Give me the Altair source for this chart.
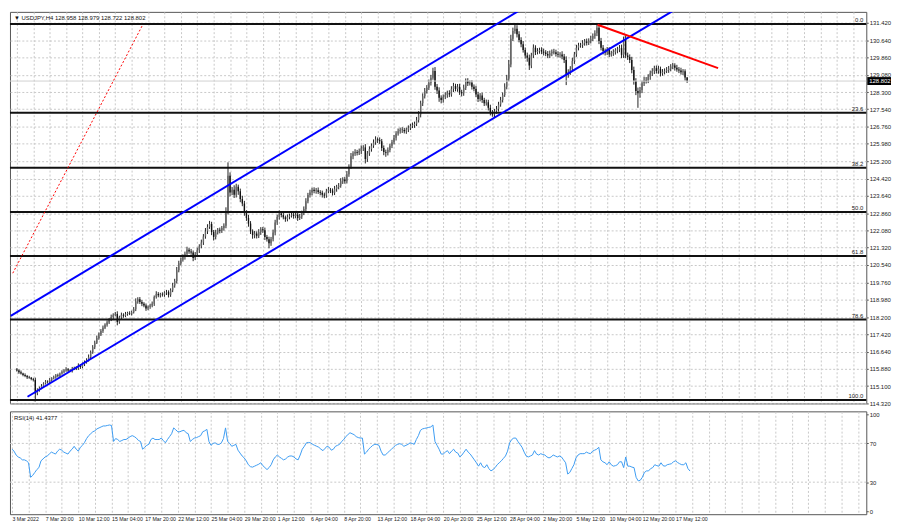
import json
import altair as alt
import pandas as pd

# ---------------- data ----------------
first_open = 115.85
closes = [
    115.80, 115.72, 115.66, 115.60, 115.55, 115.50, 115.47, 115.42, 115.38, 114.78,
    114.92, 115.02, 115.10, 115.22, 115.30, 115.28, 115.38, 115.45, 115.50, 115.58,
    115.55, 115.66, 115.74, 115.80, 115.86, 115.80, 115.78, 115.88, 115.92, 115.90,
    116.02, 115.96, 116.08, 116.18, 116.26, 116.40, 116.62, 116.84, 117.05, 117.26,
    117.42, 117.58, 117.72, 117.85, 117.96, 118.08, 118.20, 118.30, 118.34, 117.98,
    118.18, 118.30, 118.26, 118.34, 118.38, 118.36, 118.42, 118.55, 118.90, 119.00,
    118.88, 118.80, 118.72, 118.58, 118.66, 118.72, 118.80, 119.10, 119.24, 119.18,
    119.22, 119.20, 119.30, 119.32, 119.20, 119.40, 119.62, 119.82, 120.30, 120.62,
    120.78, 120.90, 121.05, 121.22, 121.15, 121.10, 120.85, 121.02, 121.20, 121.38,
    121.55, 121.82, 122.05, 122.25, 122.38, 122.02, 121.80, 122.00, 122.12, 122.08,
    122.20, 122.30, 122.95, 124.55, 123.80, 123.92, 123.70, 124.05, 123.85, 123.50,
    123.30, 122.90, 122.65, 122.40, 122.05, 121.88, 121.95, 121.85, 122.02, 122.15,
    122.10, 121.80, 121.70, 121.52, 121.70, 122.00, 122.45, 122.70, 122.85, 122.78,
    122.68, 122.60, 122.70, 122.76, 122.80, 122.74, 122.80, 122.65, 122.72, 122.88,
    123.05, 123.40, 123.68, 123.80, 123.92, 123.86, 123.90, 123.82, 123.78, 123.70,
    123.66, 123.85, 123.92, 123.88, 123.78, 123.96, 124.05, 124.10, 124.30, 124.38,
    124.30, 124.62, 124.95, 125.42, 125.55, 125.62, 125.58, 125.66, 125.78, 125.82,
    125.30, 125.55, 125.75, 125.90, 126.05, 126.18, 126.15, 126.10, 125.80, 125.62,
    125.58, 125.70, 125.90, 126.05, 126.25, 126.45, 126.55, 126.62, 126.60, 126.55,
    126.62, 126.70, 126.78, 126.82, 126.88, 127.05, 127.30, 127.80, 128.12, 128.35,
    128.50, 128.72, 128.95, 129.25, 128.55, 128.38, 128.05, 127.95, 128.10, 128.18,
    128.26, 128.20, 128.45, 128.58, 128.45, 128.55, 128.30, 128.25, 128.50, 128.80,
    128.70, 128.72, 128.55, 128.45, 128.20, 128.00, 128.15, 127.95, 127.80, 127.85,
    127.60, 127.38, 127.30, 127.45, 127.55, 127.75, 127.95, 128.18, 128.55, 128.90,
    129.55, 130.70, 131.05, 131.15, 130.90, 130.65, 130.45, 130.20, 129.95, 129.85,
    129.50, 129.95, 130.30, 130.10, 130.15, 130.20, 130.12, 130.08, 130.02, 129.95,
    130.05, 130.12, 130.10, 130.02, 129.98, 130.00, 129.90, 129.75, 129.10, 129.20,
    129.35, 129.70, 130.00, 130.30, 130.40, 130.42, 130.50, 130.58, 130.52, 130.60,
    130.70, 130.82, 130.95, 131.20, 130.60, 130.30, 130.15, 130.08, 130.20, 130.00,
    130.05, 130.10, 130.18, 130.22, 130.28, 129.98, 130.65, 129.95, 129.88, 129.75,
    129.30, 128.80, 128.35, 128.25, 128.40, 128.70, 128.85, 128.82, 129.00, 129.15,
    129.25, 129.38, 129.25, 129.35, 129.15, 129.22, 129.26, 129.30, 129.36, 129.45,
    129.50, 129.40, 129.32, 129.28, 129.20, 129.24, 128.96, 128.80,
]
# upper / lower wick lengths in hundredths of a yen
up_wick = [
    6, 5, 8, 4, 7, 5, 6, 4, 5, 10, 8, 6, 9, 5, 7, 6, 8, 5, 7, 6,
    8, 5, 7, 6, 9, 5, 6, 8, 5, 7, 10, 6, 8, 7, 9, 12, 8, 10, 9, 11,
    9, 8, 10, 7, 9, 8, 11, 7, 9, 12, 8, 10, 7, 9, 6, 8, 7, 10, 14, 9,
    10, 8, 7, 9, 6, 8, 10, 7, 12, 8, 7, 9, 6, 10, 8, 9, 12, 10, 15, 11,
    10, 12, 9, 14, 8, 11, 9, 10, 12, 9, 13, 11, 15, 12, 14, 10, 9, 12, 8, 10,
    9, 11, 18, 60, 15, 12, 20, 14, 10, 12, 15, 12, 10, 14, 11, 9, 12, 10, 13, 9,
    10, 12, 9, 11, 10, 13, 12, 10, 14, 9, 10, 8, 11, 9, 12, 8, 10, 9, 11, 10,
    12, 14, 10, 12, 9, 11, 10, 12, 8, 10, 9, 11, 12, 8, 10, 13, 9, 12, 14, 10,
    12, 14, 11, 15, 10, 12, 9, 11, 13, 10, 15, 11, 12, 10, 13, 14, 9, 12, 10, 11,
    10, 12, 9, 11, 13, 10, 12, 9, 11, 10, 9, 11, 10, 12, 10, 14, 15, 12, 13, 14,
    12, 15, 13, 15, 18, 12, 14, 11, 10, 12, 11, 13, 12, 14, 10, 12, 13, 11, 14, 12,
    13, 11, 12, 10, 14, 12, 11, 13, 10, 12, 11, 14, 12, 10, 13, 12, 14, 11, 15, 18,
    20, 18, 15, 23, 16, 14, 12, 15, 11, 13, 14, 12, 15, 11, 13, 10, 12, 14, 11, 13,
    12, 10, 13, 11, 12, 10, 14, 12, 16, 13, 12, 15, 11, 13, 12, 10, 14, 11, 13, 12,
    14, 12, 13, 15, 18, 14, 12, 11, 13, 12, 11, 13, 10, 12, 14, 16, 15, 20, 13, 12,
    14, 15, 13, 16, 14, 12, 15, 13, 11, 12, 13, 11, 12, 14, 10, 12, 11, 13, 12, 11,
    12, 10, 13, 11, 12, 10, 9, 2,
]
dn_wick = [
    5, 7, 4, 6, 5, 8, 4, 6, 7, 37, 9, 7, 6, 8, 5, 7, 6, 8, 5, 7,
    6, 8, 5, 7, 6, 9, 5, 7, 6, 8, 7, 9, 6, 8, 7, 6, 9, 7, 8, 6,
    8, 7, 9, 6, 8, 7, 6, 9, 7, 15, 8, 7, 9, 6, 8, 7, 9, 6, 8, 10,
    9, 11, 8, 10, 7, 9, 8, 10, 7, 9, 10, 8, 9, 11, 12, 9, 8, 10, 11, 9,
    10, 9, 12, 8, 11, 10, 14, 9, 10, 12, 9, 11, 10, 12, 9, 14, 16, 11, 9, 12,
    10, 12, 11, 14, 18, 12, 15, 13, 16, 14, 12, 15, 13, 14, 12, 16, 14, 12, 10, 13,
    12, 14, 11, 23, 12, 10, 13, 11, 12, 10, 9, 12, 10, 11, 9, 12, 10, 13, 9, 11,
    10, 12, 9, 11, 13, 10, 12, 9, 11, 13, 12, 10, 9, 11, 12, 10, 13, 11, 9, 12,
    11, 10, 12, 9, 13, 11, 12, 10, 14, 12, 20, 13, 11, 12, 10, 11, 13, 12, 14, 15,
    18, 12, 10, 11, 9, 12, 10, 11, 13, 10, 12, 11, 10, 9, 12, 10, 11, 13, 12, 10,
    11, 10, 12, 9, 14, 16, 18, 15, 12, 11, 13, 12, 10, 14, 11, 13, 12, 14, 11, 10,
    12, 10, 13, 11, 12, 14, 11, 13, 12, 10, 12, 12, 10, 13, 11, 12, 10, 11, 9, 12,
    11, 13, 10, 12, 14, 11, 13, 12, 14, 18, 20, 12, 11, 13, 10, 12, 11, 13, 10, 12,
    11, 13, 10, 12, 11, 13, 12, 14, 48, 15, 12, 10, 13, 11, 12, 10, 13, 11, 12, 10,
    11, 10, 12, 13, 14, 12, 15, 13, 11, 12, 10, 12, 11, 13, 12, 15, 14, 12, 13, 14,
    15, 16, 18, 65, 20, 14, 12, 13, 11, 14, 12, 13, 11, 12, 14, 11, 12, 10, 13, 12,
    11, 13, 10, 12, 11, 13, 14, 8,
]
rsi_values = [
    64, 62, 58, 56, 55, 53, 53, 52, 50, 35,
    37, 40, 43, 45, 52, 54, 56, 57, 59, 61,
    60, 59, 62, 64, 63, 61, 60, 59, 62, 64,
    67, 64, 62, 66, 68, 71, 75, 78, 80, 82,
    83, 85, 86, 87, 88, 88, 88.5, 89, 88.5, 72,
    75, 74, 72, 73, 74, 74, 75.5, 77, 78, 77,
    75.5, 73, 72, 64, 66, 68, 69, 74, 75.5, 74,
    74, 74, 75.5, 73, 70.6, 74, 77, 80, 86, 84,
    82, 82, 83, 83.5, 81, 80, 72, 74, 75.5, 76,
    77, 78, 82, 83, 84.5, 72, 68, 70, 70.6, 69,
    69, 70.6, 75, 86, 72, 70, 67, 68, 69, 63,
    60, 57, 55, 52, 48, 46, 45.5, 46.5, 47.5, 48.5,
    50, 47, 45, 43, 45, 48, 53, 56, 58, 56,
    54.5, 53, 54, 56, 57, 57, 56, 54, 53, 58,
    64, 67, 70.6, 71, 70.6, 69, 68, 67, 66, 64,
    62.5, 65, 67, 66, 63, 64, 67, 68, 69, 72,
    74, 77, 79, 81, 80, 79, 77, 76, 75.5, 75.5,
    59, 61, 64, 66, 68, 69, 69, 68, 62, 58,
    58, 60, 62, 64, 66, 68, 69, 69.7, 69, 67,
    68, 69, 70.6, 70, 69, 74, 78, 83.5, 85, 85.5,
    86, 86.5, 87, 89, 72, 68, 64, 59, 59, 61,
    62.5, 59.4, 62, 64, 61, 60, 56, 58, 61, 64,
    61, 59, 56, 53, 50, 46.5, 50, 46, 45, 48,
    44, 41.6, 43, 45, 48, 50, 52, 54.5, 57, 62,
    70.6, 74, 75.5, 75.5, 72, 69, 66, 61, 57, 56,
    57, 58, 62.5, 59, 58, 59.4, 58.5, 58, 56, 55,
    56, 58, 57, 56, 57, 56, 53, 50, 38.4, 40,
    44, 48, 55, 58, 59.4, 59.4, 59.4, 61, 60, 59.4,
    62, 63, 64, 66, 53, 51, 50, 48, 51, 48,
    46.5, 47, 48, 51, 51, 45, 56, 46.5, 46.5, 45.5,
    45, 35, 31.3, 32, 35, 40, 41.6, 41.6, 44, 45,
    48, 47, 46.5, 50, 47, 46.5, 48, 48.5, 49, 51,
    52, 50.3, 49, 48, 48, 50, 44, 41.4377,
]

time_labels = ["3 Mar 2022", "7 Mar 20:00", "10 Mar 12:00", "15 Mar 04:00", "17 Mar 20:00",
               "22 Mar 12:00", "25 Mar 04:00", "29 Mar 20:00", "1 Apr 12:00", "6 Apr 04:00",
               "8 Apr 20:00", "13 Apr 12:00", "18 Apr 04:00", "20 Apr 20:00", "25 Apr 12:00",
               "28 Apr 04:00", "2 May 20:00", "5 May 12:00", "10 May 04:00", "12 May 20:00",
               "17 May 12:00"]
grid_bars = list(range(0, 412, 8))
price_ticks = [131.42, 130.64, 129.86, 129.08, 128.30, 127.54, 126.76, 125.98, 125.20,
               124.42, 123.64, 122.86, 122.08, 121.32, 120.54, 119.76, 118.98, 118.20,
               117.42, 116.64, 115.88, 115.10, 114.32]
fib_names = ["0.0", "23.6", "38.2", "50.0", "61.8", "78.6", "100.0"]
fib_prices = [131.36, 127.38, 124.91, 122.92, 120.94, 118.09, 114.48]
rsi_levels = [30, 70]
rsi_ticks = [0, 30, 70, 100]

line_ids = ["up", "up", "low", "low"]
line_bars = [-3.0, 248.9, 5.18, 324.2]
line_prices = [118.25, 132.18, 114.62, 132.18]
red_bars = [283.3, 342.1]
red_prices = [131.33, 129.38]
diag_bars = [-2.0, 61.5]
diag_prices = [120.17, 131.35]
last_price = 128.802
title_text = "▼ USDJPY,H4  128.958 128.979 128.722 128.802"
rsi_text = "RSI(14) 41.4377"

# ---------------- tables ----------------
n = len(closes)
opens = [first_open] + closes[:-1]
bars = list(range(n))
highs = [max(o, c) + u / 100 for o, c, u in zip(opens, closes, up_wick)]
lows = [min(o, c) - d / 100 for o, c, d in zip(opens, closes, dn_wick)]
candles = pd.DataFrame({"bar": bars, "open": opens, "close": closes,
                        "high": highs, "low": lows})
rsi_df = pd.DataFrame({"bar": bars, "rsi": rsi_values[:n]})
fib_df = pd.DataFrame({"name": fib_names, "price": fib_prices})
chan_df = pd.DataFrame({"id": line_ids, "bar": line_bars, "price": line_prices})
red_df = pd.DataFrame({"bar": red_bars, "price": red_prices})
diag_df = pd.DataFrame({"bar": diag_bars, "price": diag_prices})
last_df = pd.DataFrame({"price": [last_price], "label": [f"{last_price:.3f}"]})
lvl_df = pd.DataFrame({"level": rsi_levels})

W = 866
H_MAIN = 396
H_RSI = 104
FONT = "Liberation Sans"
GRID = "#c8c8c8"

xscale = alt.Scale(domain=[-0.954, 412.0], nice=False, zero=False)
yscale = alt.Scale(domain=[114.32, 131.909], nice=False, zero=False)
rscale = alt.Scale(domain=[-3.06, 103.06], nice=False, zero=False)

XA = alt.Axis(values=grid_bars, labels=False, ticks=False, domain=False,
              grid=True, gridColor=GRID, gridDash=[2, 2], title=None)
YA = alt.Axis(orient="right", values=price_ticks, format=".3f", grid=True,
              gridColor=GRID, gridDash=[2, 2], labelFontSize=6,
              labelColor="#222", tickSize=2, tickColor="#555", labelPadding=1,
              domain=False, title=None, labelFont=FONT)


def X(field):
    return alt.X(field, scale=xscale, axis=XA)


def Y(field):
    return alt.Y(field, scale=yscale, axis=YA)


base = alt.Chart(candles)
wicks = base.mark_rule(color="#222", strokeWidth=1).encode(
    x=X("bar:Q"), y=Y("low:Q"), y2="high:Q")
bodies = base.mark_bar(width=1.4).encode(
    x=X("bar:Q"), y=Y("open:Q"), y2="close:Q",
    color=alt.condition("datum.close >= datum.open", alt.value("#666666"), alt.value("#111111")),
)
fib_lines = alt.Chart(fib_df).mark_rule(color="#111", strokeWidth=2).encode(y=Y("price:Q"))
fib_text = alt.Chart(fib_df).mark_text(align="right", baseline="bottom", fontSize=6,
                                       dy=-1, font=FONT, color="#222").encode(
    x=alt.value(W - 3), y=Y("price:Q"), text="name:N")
bid_line = alt.Chart(last_df).mark_rule(color="#d0d0d0", strokeWidth=1).encode(y=Y("price:Q"))
channel = alt.Chart(chan_df).mark_line(color="#0000ff", strokeWidth=2, clip=True).encode(
    x=X("bar:Q"), y=Y("price:Q"), detail="id:N")
red = alt.Chart(red_df).mark_line(color="#ff0000", strokeWidth=2, clip=True).encode(
    x=X("bar:Q"), y=Y("price:Q"))
diag = alt.Chart(diag_df).mark_line(color="#ff0000", strokeWidth=1, strokeDash=[2, 2],
                                    clip=True).encode(x=X("bar:Q"), y=Y("price:Q"))
price_box = alt.Chart(last_df).mark_rect(color="#000", yOffset=-4, y2Offset=4).encode(
    x=alt.value(W + 1), x2=alt.value(W + 25), y=Y("price:Q"), y2="price:Q")
price_txt = alt.Chart(last_df).mark_text(align="left", baseline="middle", fontSize=6,
                                         color="#fff", font=FONT).encode(
    x=alt.value(W + 3), y=Y("price:Q"), text="label:N")
title = alt.Chart(last_df).mark_text(align="left", baseline="middle", fontSize=6,
                                     color="#111", font=FONT).encode(
    x=alt.value(4), y=alt.value(6), text=alt.value(title_text))

main = alt.layer(wicks, bodies, fib_lines, bid_line, channel, red, diag, fib_text,
                 price_box, price_txt, title).properties(width=W, height=H_MAIN)

label_expr = ("datum.value % 16 === 0 && datum.value <= 320 ? "
              + json.dumps(time_labels) + "[datum.value / 16] : ''")
XR = alt.Axis(values=grid_bars, labelExpr=label_expr, ticks=False, domain=False,
              grid=True, gridColor=GRID, gridDash=[2, 2], title=None,
              labelFontSize=5.3, labelAlign="left", labelPadding=2,
              labelOverlap=False, labelBound=False, labelColor="#222",
              labelFont=FONT, labelFlush=False)
YR = alt.Axis(orient="right", values=rsi_ticks, grid=False, labelFontSize=6,
              labelColor="#222", tickSize=2, tickColor="#555", labelPadding=1,
              domain=False, title=None, labelFont=FONT)
rsi_line = alt.Chart(rsi_df).mark_line(color="#3d9cf2", strokeWidth=1).encode(
    x=alt.X("bar:Q", scale=xscale, axis=XR),
    y=alt.Y("rsi:Q", scale=rscale, axis=YR))
rsi_lvls = alt.Chart(lvl_df).mark_rule(color=GRID, strokeDash=[2, 2]).encode(
    y=alt.Y("level:Q", scale=rscale, axis=YR))
rsi_label = alt.Chart(last_df).mark_text(align="left", baseline="middle", fontSize=6,
                                         color="#111", font=FONT).encode(
    x=alt.value(4), y=alt.value(7), text=alt.value(rsi_text))
rsi = alt.layer(rsi_lvls, rsi_line, rsi_label).properties(width=W, height=H_RSI)

chart = alt.vconcat(main, rsi, spacing=3).resolve_scale(
    x="independent", y="independent"
).properties(padding=0, background="#ffffff").configure_view(
    stroke="#555", strokeWidth=1
)

chart.save("out.html", embed_options={"renderer": "svg", "actions": False})
